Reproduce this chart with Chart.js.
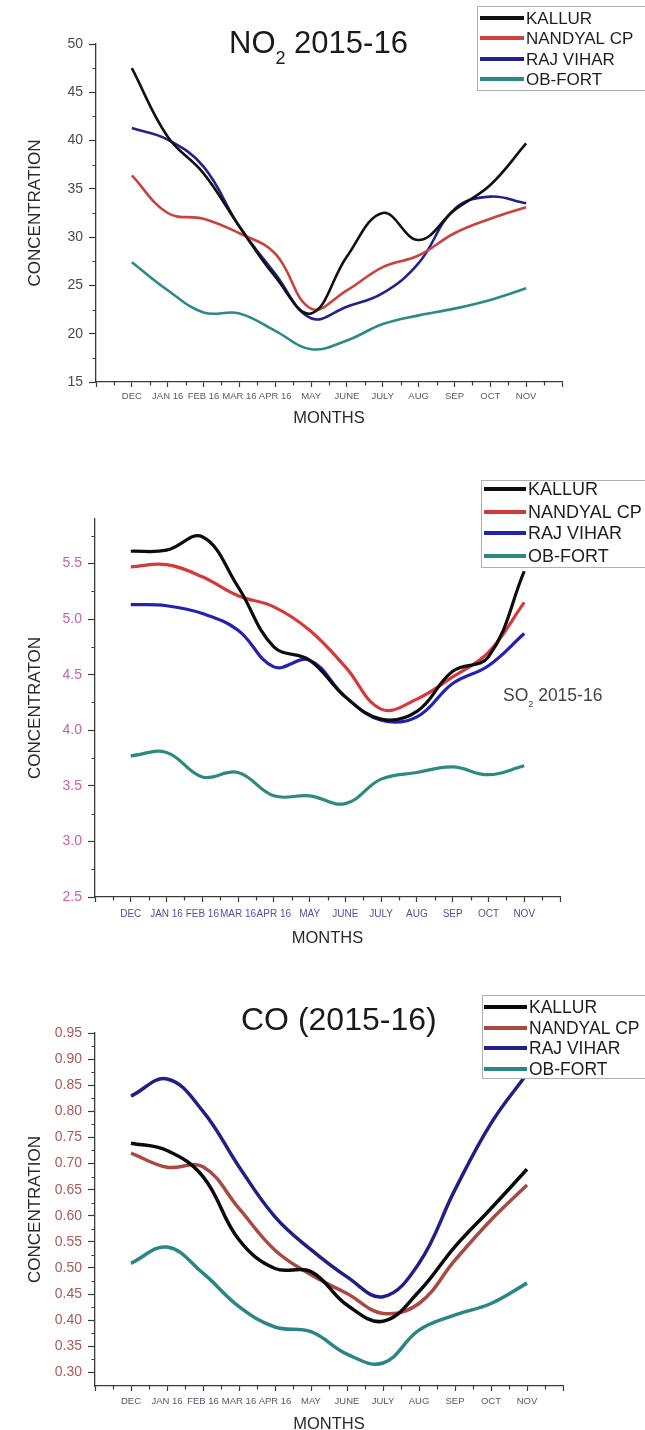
<!DOCTYPE html>
<html>
<head>
<meta charset="utf-8">
<script src="https://cdn.jsdelivr.net/npm/chart.js@4/dist/chart.umd.min.js"></script>
<style>
  html, body { margin: 0; padding: 0; background: #fff; overflow: hidden; width: 645px; height: 1430px; }
  canvas { position: absolute; left: 0; }
</style>
</head>
<body>
<canvas id="no2" width="645" height="440" style="top:0px"></canvas>
<canvas id="so2" width="645" height="480" style="top:470px"></canvas>
<canvas id="co" width="645" height="480" style="top:960px"></canvas>
<script>
// Monthly average concentrations at the four Kurnool stations, Dec 2015 - Nov 2016
const months = ['DEC', 'JAN 16', 'FEB 16', 'MAR 16', 'APR 16', 'MAY', 'JUNE', 'JULY', 'AUG', 'SEP', 'OCT', 'NOV'];
const stations = ['KALLUR', 'NANDYAL CP', 'RAJ VIHAR', 'OB-FORT'];

// NO2
const no2Kallur   = [47.5, 40.4, 36.6, 31.1, 25.9, 22.1, 28.0, 32.5, 29.7, 32.8, 35.4, 39.7];
const no2Nandyal  = [36.4, 32.5, 31.9, 30.4, 28.3, 22.6, 24.5, 26.9, 28.1, 30.4, 31.9, 33.1];
const no2RajVihar = [41.3, 40.1, 37.3, 31.1, 26.2, 21.6, 22.8, 24.2, 27.3, 32.9, 34.2, 33.5];
const no2ObFort   = [27.4, 24.5, 22.2, 22.1, 20.3, 18.4, 19.3, 21.0, 21.9, 22.6, 23.5, 24.7];
const no2Ticks    = [15, 20, 25, 30, 35, 40, 45, 50];

// SO2
const so2Kallur   = [5.61, 5.62, 5.74, 5.29, 4.75, 4.63, 4.30, 4.10, 4.17, 4.53, 4.66, 5.43];
const so2Nandyal  = [5.47, 5.49, 5.38, 5.21, 5.11, 4.90, 4.57, 4.19, 4.28, 4.48, 4.70, 5.15];
const so2RajVihar = [5.13, 5.12, 5.05, 4.90, 4.57, 4.63, 4.30, 4.09, 4.12, 4.42, 4.58, 4.87];
const so2ObFort   = [3.77, 3.80, 3.58, 3.62, 3.41, 3.41, 3.34, 3.56, 3.62, 3.67, 3.60, 3.68];
const so2Ticks    = [2.5, 3.0, 3.5, 4.0, 4.5, 5.0, 5.5];

// CO
const coKallur    = [0.739, 0.725, 0.675, 0.554, 0.499, 0.493, 0.429, 0.398, 0.455, 0.541, 0.614, 0.689];
const coNandyal   = [0.720, 0.693, 0.694, 0.614, 0.534, 0.487, 0.451, 0.413, 0.432, 0.515, 0.592, 0.659];
const coRajVihar  = [0.829, 0.862, 0.800, 0.694, 0.598, 0.535, 0.483, 0.445, 0.509, 0.650, 0.777, 0.872];
const coObFort    = [0.509, 0.540, 0.490, 0.426, 0.387, 0.378, 0.335, 0.318, 0.381, 0.410, 0.432, 0.471];
const coTicks     = [0.30, 0.35, 0.40, 0.45, 0.50, 0.55, 0.60, 0.65, 0.70, 0.75, 0.80, 0.85, 0.90, 0.95];

const FONT = '"Liberation Sans", Arial, Helvetica, sans-serif';
const AXIS = '#3a3a3a';

// month positions on a linear axis, with one empty slot at each end
const xMajor = [];
for (let i = -1; i <= months.length; i++) xMajor.push(i);
const xMinor = [];
for (let i = -1; i < months.length; i++) xMinor.push(i + 0.5);

function minorBetween(ticks) {
  const out = [];
  for (let i = 0; i < ticks.length - 1; i++) out.push((ticks[i] + ticks[i + 1]) / 2);
  return out;
}

// minor ticks, title text with subscripts and the framed legend
const decor = {
  id: 'decor',
  afterDatasetsDraw(chart, args, o) {
    const { ctx, chartArea: a, scales: { x, y } } = chart;
    ctx.save();
    ctx.strokeStyle = AXIS;
    ctx.lineWidth = 1.2;
    ctx.beginPath();
    o.xMinor.forEach(v => {
      const p = Math.round(x.getPixelForValue(v)) + 0.5;
      ctx.moveTo(p, a.bottom); ctx.lineTo(p, a.bottom + o.minorLen);
    });
    o.yMinor.forEach(v => {
      const p = Math.round(y.getPixelForValue(v)) + 0.5;
      ctx.moveTo(a.left, p); ctx.lineTo(a.left - o.minorLen, p);
    });
    ctx.stroke();

    if (o.title) {
      const t = o.title;
      let cx = t.x;
      ctx.fillStyle = t.color;
      ctx.textBaseline = 'alphabetic';
      ctx.textAlign = 'left';
      t.parts.forEach(p => {
        ctx.font = p.size + 'px ' + FONT;
        ctx.fillText(p.text, cx, t.y + (p.dy || 0));
        cx += ctx.measureText(p.text).width;
      });
    }

    const L = o.legend;
    ctx.fillStyle = '#fff';
    ctx.fillRect(L.x, L.y, L.w, L.h);
    ctx.strokeStyle = '#b0b0b0';
    ctx.lineWidth = 1;
    ctx.strokeRect(L.x + 0.5, L.y + 0.5, L.w, L.h);
    ctx.font = L.size + 'px ' + FONT;
    ctx.textBaseline = 'middle';
    ctx.textAlign = 'left';
    chart.data.datasets.forEach((ds, i) => {
      const ry = L.rows[i];
      ctx.strokeStyle = ds.borderColor;
      ctx.lineWidth = 4;
      ctx.beginPath();
      ctx.moveTo(L.x0, ry); ctx.lineTo(L.x1, ry);
      ctx.stroke();
      ctx.fillStyle = '#1e1e1e';
      ctx.fillText(ds.label, L.tx, ry + 1);
    });
    ctx.restore();
  }
};

function build(id, cfg) {
  const datasets = cfg.series.map((vals, i) => ({
    label: stations[i],
    data: vals.map((v, k) => ({ x: k, y: v })),
    borderColor: cfg.colors[i],
    borderWidth: cfg.lineWidth,
    pointRadius: 0,
    tension: 0.4,
    fill: false
  }));
  return new Chart(document.getElementById(id), {
    type: 'line',
    data: { datasets },
    plugins: [decor],
    options: {
      responsive: false,
      animation: false,
      devicePixelRatio: 1,
      layout: { padding: cfg.padding },
      plugins: {
        legend: { display: false },
        tooltip: { enabled: false },
        decor: {
          xMinor: xMinor,
          yMinor: cfg.yMinor,
          minorLen: 3.5,
          title: cfg.title,
          legend: cfg.legend
        }
      },
      scales: {
        x: {
          type: 'linear',
          min: -1,
          max: months.length,
          afterBuildTicks: s => { s.ticks = xMajor.map(v => ({ value: v })); },
          afterFit: s => { s.height = cfg.xh; },
          ticks: {
            autoSkip: false, maxRotation: 0, minRotation: 0,
            padding: cfg.xPad,
            color: cfg.xColor,
            font: { family: FONT, size: cfg.xSize },
            callback: v => months[v] !== undefined ? months[v] : ''
          },
          grid: { display: true, drawOnChartArea: false, drawTicks: true, tickLength: 5, color: AXIS, tickWidth: 1.2 },
          border: { display: true, color: AXIS, width: 1.3 },
          title: {
            display: true, text: 'MONTHS', color: '#2a2a2a',
            font: { family: FONT, size: 16.5 },
            padding: { top: 0, bottom: cfg.titlePadB }
          }
        },
        y: {
          type: 'linear',
          min: cfg.yMin,
          max: cfg.yMax,
          afterBuildTicks: s => { s.ticks = cfg.yTicks.map(v => ({ value: v })); },
          afterFit: s => { s.width = cfg.yw; },
          ticks: {
            padding: 6,
            color: cfg.yColor,
            font: { family: FONT, size: 14 },
            callback: v => v.toFixed(cfg.decimals)
          },
          grid: { display: true, drawOnChartArea: false, drawTicks: true, tickLength: 7, color: AXIS, tickWidth: 1.2 },
          border: { display: true, color: AXIS, width: 1.3 },
          title: {
            display: true, text: cfg.yTitle, color: '#2a2a2a',
            font: { family: FONT, size: 17 },
            padding: { top: 25, bottom: 0 }
          }
        }
      }
    }
  });
}

build('no2', {
  series: [no2Kallur, no2Nandyal, no2RajVihar, no2ObFort],
  colors: ['#111111', '#c8423e', '#22228a', '#2b8a88'],
  lineWidth: 2.6,
  padding: { left: 0, right: 83, top: 44, bottom: 0 },
  yw: 96, xh: 58, xPad: 4, xSize: 9.5, titlePadB: 12,
  xColor: '#5c5c5c', yColor: '#4a4a4a',
  yMin: 15, yMax: 50, yTicks: no2Ticks, yMinor: minorBetween(no2Ticks), decimals: 0,
  yTitle: 'CONCENTRATION',
  title: { x: 229, y: 53, color: '#1a1a1a', parts: [
    { text: 'NO', size: 31 }, { text: '2', size: 18, dy: 11 }, { text: ' 2015-16', size: 31 }] },
  legend: { x: 477, y: 6, w: 170, h: 84, rows: [18, 38, 59, 79], x0: 480, x1: 524, tx: 526, size: 17 }
});

build('so2', {
  series: [so2Kallur, so2Nandyal, so2RajVihar, so2ObFort],
  colors: ['#0d0d0d', '#d43a3a', '#2323b0', '#2c8a80'],
  lineWidth: 3.2,
  padding: { left: 0, right: 85, top: 49, bottom: 0 },
  yw: 95, xh: 53, xPad: 6, xSize: 10, titlePadB: 2,
  xColor: '#5050a0', yColor: '#c462b0',
  yMin: 2.5, yMax: 5.9, yTicks: so2Ticks,
  yMinor: [2.75, 3.25, 3.75, 4.25, 4.75, 5.25, 5.75], decimals: 1,
  yTitle: 'CONCENTRATON',
  title: { x: 503, y: 231, color: '#444444', parts: [
    { text: 'SO', size: 17.5 }, { text: '2', size: 9, dy: 6 }, { text: ' 2015-16', size: 17.5 }] },
  legend: { x: 481, y: 10, w: 170, h: 87, rows: [19, 42, 63, 86], x0: 484, x1: 526, tx: 528, size: 18 }
});

build('co', {
  series: [coKallur, coNandyal, coRajVihar, coObFort],
  colors: ['#0a0a0a', '#a84a40', '#1f1f85', '#2a8585'],
  lineWidth: 3.5,
  padding: { left: 0, right: 82, top: 73, bottom: 0 },
  yw: 95, xh: 54, xPad: 5, xSize: 9.5, titlePadB: 6,
  xColor: '#55556e', yColor: '#a85a55',
  yMin: 0.274, yMax: 0.95, yTicks: coTicks, yMinor: minorBetween(coTicks), decimals: 2,
  yTitle: 'CONCENTRATION',
  title: { x: 241, y: 70, color: '#1a1a1a', parts: [{ text: 'CO (2015-16)', size: 32 }] },
  legend: { x: 482, y: 35, w: 170, h: 83, rows: [47, 68, 88, 109], x0: 484, x1: 527, tx: 529, size: 17.5 }
});
</script>
</body>
</html>
